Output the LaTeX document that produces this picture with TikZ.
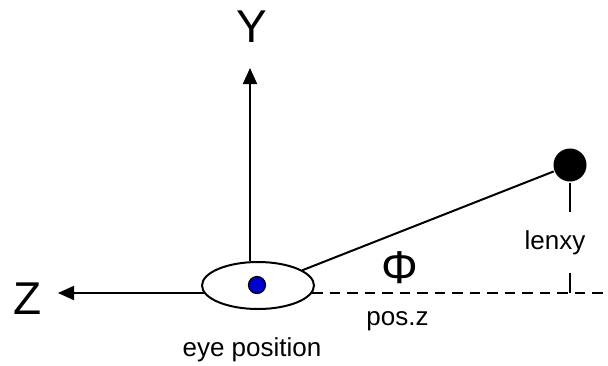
\documentclass[tikz,border=0pt]{standalone}
\usepackage{fontspec}
\setmainfont{Liberation Sans}
\usepackage{xcolor}
\usetikzlibrary{
    arrows.meta,
    shapes.geometric
}
\definecolor{pupilblue}{RGB}{0,0,204}

\begin{document}
\begin{tikzpicture}[
    x=1pt, y=-1pt,
    line width=2pt,
    axisname/.style={
        font=\fontsize{46}{50}\selectfont,
        inner sep=0pt
    },
    note/.style={
        font=\fontsize{26}{30}\selectfont,
        anchor=base,
        inner xsep=0pt
    },
    arrow/.style={
        -{Triangle[length=16pt,width=14pt]},
        line width=2pt
    },
    guide/.style={
        dash pattern=on 10.5pt off 7pt,
        line width=2pt
    }
]
\useasboundingbox (0,0) rectangle (608,365);

% =========================================================
% Eye and target
% =========================================================
\node[ellipse, draw, fill=white, inner sep=0pt,
    minimum width=112pt, minimum height=47pt] (eye) at (258,285.5) {};
\node[circle, draw, line width=1.2pt, fill=pupilblue, inner sep=0pt,
    minimum size=17pt] (pupil) at (257,285) {};

\node[circle, fill=black, inner sep=0pt, minimum size=33pt] (ball) at (570,165) {};

% =========================================================
% Labels
% =========================================================
\node[axisname] (ylab) at (252,26.5) {Y};
\node[axisname] (zlab) at (28,298.5) {Z};
\node[axisname] (philab) at (400,268) {Φ};

\node[note, inner ysep=17.5pt] (lenxy) at (555,249) {lenxy};
\node[note] (posz) at (397.5,325.5) {pos.z};
\node[note] (eyepos) at (252,356) {eye position};

% =========================================================
% Axes and guides
% =========================================================
\coordinate (ytip) at (250,68);
\coordinate (ztip) at (58,293);
\coordinate (zend) at (608,293);

\draw[arrow] (ytip |- eye.north) -- (ytip);
\draw[arrow] (ztip -| eye.188) -- (ztip);
\draw[guide] (zend -| eye.-8) -- (zend);

\draw (eye.19) -- (ball);
\draw (ball) -- (ball |- lenxy.north);
\draw (ball |- lenxy.south) -- (ball |- zend);

\end{tikzpicture}
\end{document}
